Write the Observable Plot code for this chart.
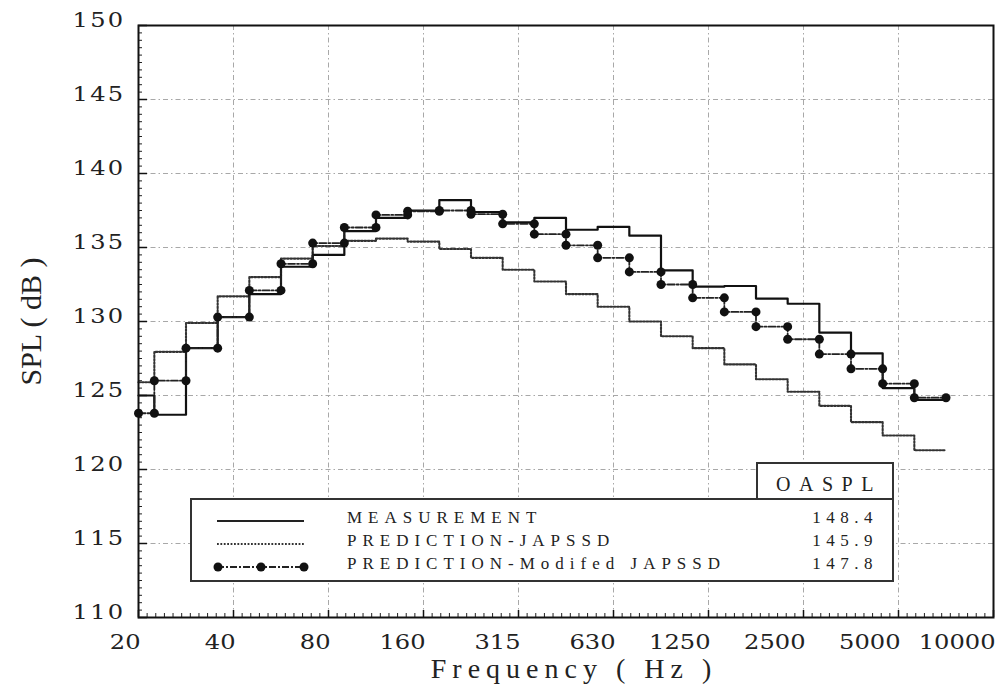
<!DOCTYPE html>
<html>
<head>
<meta charset="utf-8">
<script src="https://cdn.jsdelivr.net/npm/d3@7"></script>
<script src="https://cdn.jsdelivr.net/npm/@observablehq/plot@0.6"></script>
<style>
  html, body { margin: 0; padding: 0; background: white; }
  #wrap { position: relative; width: 1000px; height: 694px; }
  #wrap svg { position: absolute; left: 0; top: 0; }
  #legend text { font-family: "Liberation Serif", serif; fill: #222; }
</style>
</head>
<body>
<div id="wrap"></div>
<script>
// 1/3-octave band centre frequencies of the data (index 0 = 20 Hz)
const bands = ["20","25","31.5","40","50","63","80","100","125","160","200","250","315","400","500","630","800","1000","1250","1600","2000","2500","3150","4000","5000","6300"];
const measurement = [125.0,123.7,128.2,130.3,131.85,133.7,134.5,136.1,137.0,137.5,138.2,137.4,136.7,137.0,136.2,136.4,135.8,133.45,132.35,132.4,131.55,131.2,129.25,127.85,125.5,124.7];
const japssd      = [125.9,127.95,129.9,131.7,133.0,134.25,135.1,135.45,135.6,135.4,134.9,134.3,133.5,132.7,131.85,131.0,130.0,129.0,128.2,127.1,126.1,125.25,124.3,123.2,122.3,121.3];
const modified    = [123.8,126.0,128.2,130.3,132.1,133.9,135.3,136.35,137.2,137.45,137.5,137.25,136.6,135.9,135.15,134.3,133.35,132.5,131.6,130.65,129.65,128.8,127.8,126.8,125.8,124.85];

const seriesNames = ["MEASUREMENT","PREDICTION-JAPSSD","PREDICTION-Modifed JAPSSD"];
const oaspl = ["148.4","145.9","147.8"];
const oasplTitle = "OASPL";

const xTickIdx = [0,3,6,9,12,15,18,21,24,27];
const xTickLabels = ["20","40","80","160","315","630","1250","2500","5000","10000"];
const yTicks = [110,115,120,125,130,135,140,145,150];
const xTitle = "Frequency ( Hz )";
const yTitle = "SPL ( dB )";

// step geometry built from band indices
function stepPoints(vals) {
  const pts = vals.map((v, i) => ({x: Math.max(i - 0.5, 0), y: v}));
  pts.push({x: vals.length - 0.5, y: vals[vals.length - 1]});
  return pts;
}
function cornerDots(vals) {
  const pts = [];
  vals.forEach((v, i) => {
    pts.push({x: Math.max(i - 0.5, 0), y: v});
    pts.push({x: i + 0.5, y: v});
  });
  return pts;
}
const minorX = d3.range(0, 27.0001, 3 / 11);
const minorY = d3.range(110, 150.0001, 0.5);

const gridStyle = {stroke: "#a8a8a8", strokeOpacity: 1, strokeWidth: 1, strokeDasharray: "5,3,1.5,3"};
const tickFont = "DejaVu Serif, serif";
const titleFont = "Liberation Serif, serif";

const chart = Plot.plot({
  width: 1000,
  height: 694,
  marginLeft: 138,
  marginRight: 7,
  marginTop: 25,
  marginBottom: 77,
  x: {domain: [0, 27], axis: null},
  y: {domain: [110, 150], axis: null},
  style: {background: "white", fontFamily: "Liberation Serif, serif", color: "#222"},
  marks: [
    Plot.gridX(xTickIdx.slice(1, -1), gridStyle),
    Plot.gridY(yTicks.slice(1, -1), gridStyle),
    Plot.axisX(minorX, {anchor: "bottom", tickSize: -4, tickFormat: () => "", label: null, stroke: "#222"}),
    Plot.axisX(xTickIdx, {anchor: "bottom", tickSize: -7, tickFormat: () => "", label: null, stroke: "#111", strokeWidth: 1.5}),
    Plot.axisY(minorY, {anchor: "left", tickSize: -4, tickFormat: () => "", label: null, stroke: "#222"}),
    Plot.axisY(yTicks, {anchor: "left", tickSize: -9, tickFormat: () => "", label: null, stroke: "#111", strokeWidth: 1.5}),
    Plot.line(stepPoints(japssd), {x: "x", y: "y", curve: "step-after", stroke: "#333", strokeWidth: 2.1, strokeDasharray: "1.8,1.6"}),
    Plot.line(stepPoints(measurement), {x: "x", y: "y", curve: "step-after", stroke: "#111", strokeWidth: 2.2}),
    Plot.line(stepPoints(modified), {x: "x", y: "y", curve: "step-after", stroke: "#222", strokeWidth: 1.8, strokeDasharray: "7,2,2,2"}),
    Plot.dot(cornerDots(modified), {x: "x", y: "y", r: 4.5, fill: "#111", stroke: "none"}),
    Plot.frame({stroke: "#111", strokeWidth: 2}),
    Plot.text(xTickIdx, {x: d => d, text: (d, i) => xTickLabels[i], frameAnchor: "bottom", lineAnchor: "bottom", dy: 31, dx: 2, textAnchor: "end", fontSize: 21, fontFamily: tickFont, fill: "#222"}),
    Plot.text(yTicks, {y: d => d, text: d => String(d), frameAnchor: "left", lineAnchor: "bottom", dy: 1, dx: -13, textAnchor: "end", fontSize: 21, fontFamily: tickFont, fill: "#222"}),
    Plot.text([xTitle], {text: d => d, frameAnchor: "bottom", lineAnchor: "bottom", textAnchor: "middle", dy: 60, dx: 8, fontSize: 28, fontFamily: titleFont, fill: "#222"}),
    Plot.text([yTitle], {text: d => d, frameAnchor: "left", textAnchor: "middle", rotate: -90, dx: -107, fontSize: 30, fontFamily: titleFont, fill: "#222"})
  ]
});
document.getElementById("wrap").appendChild(chart);

// letter spacing and horizontal widening for the text marks
// (order: x ticks, y ticks, x title, y title)
const spacing = ["0px", "2px", "6px", "0px"];
const widen = [1.15, 1.15, 1, 1];
d3.select(chart).selectAll('g[aria-label="text"]').each(function(_, i) {
  d3.select(this).selectAll("text").each(function() {
    const t = d3.select(this);
    t.style("letter-spacing", spacing[i]);
    if (widen[i] !== 1) {
      const tr = t.attr("transform") || "";
      t.attr("transform", tr + ` scale(${widen[i]},1)`);
    }
  });
});

// Legend overlay (inside the plot area, as in the reference)
const lg = d3.select("#wrap").append("svg")
  .attr("id", "legend").attr("width", 1000).attr("height", 694);
lg.append("rect").attr("x", 757).attr("y", 463).attr("width", 136).attr("height", 36)
  .attr("fill", "white").attr("stroke", "#333").attr("stroke-width", 2);
lg.append("text").attr("x", 829).attr("y", 491).attr("text-anchor", "middle")
  .attr("font-size", 20).attr("letter-spacing", "8.5px").text(oasplTitle);
lg.append("rect").attr("x", 191).attr("y", 499).attr("width", 702).attr("height", 82)
  .attr("fill", "white").attr("stroke", "#333").attr("stroke-width", 2);
const rowY = [521, 544, 567];
const styles = [
  {dash: null, w: 2.2, c: "#222"},
  {dash: "1.8,1.6", w: 2.1, c: "#333"},
  {dash: "7,2,2,2", w: 1.8, c: "#222"}
];
seriesNames.forEach((name, i) => {
  lg.append("line").attr("x1", 217).attr("x2", 304).attr("y1", rowY[i]).attr("y2", rowY[i])
    .attr("stroke", styles[i].c).attr("stroke-width", styles[i].w)
    .attr("stroke-dasharray", styles[i].dash);
  lg.append("text").attr("x", 347).attr("y", rowY[i] + 2).attr("font-size", 17)
    .attr("letter-spacing", "6px").text(name);
  lg.append("text").attr("x", 878).attr("y", rowY[i] + 2).attr("text-anchor", "end")
    .attr("font-size", 17).attr("letter-spacing", "5.5px").text(oaspl[i]);
});
[218, 261, 304].forEach(x => {
  lg.append("circle").attr("cx", x).attr("cy", rowY[2]).attr("r", 4.5).attr("fill", "#111");
});
</script>
</body>
</html>
